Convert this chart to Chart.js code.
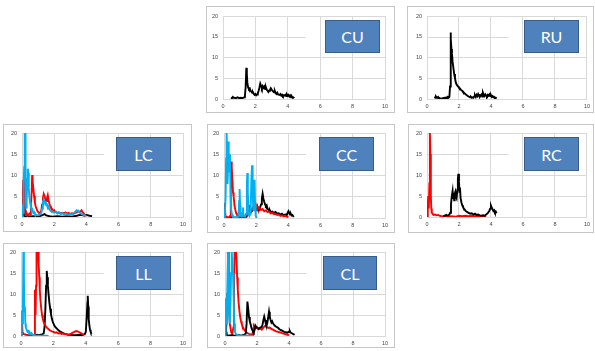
<!DOCTYPE html>
<html>
<head>
<meta charset="utf-8">
<script src="https://cdn.jsdelivr.net/npm/chart.js@4/dist/chart.umd.min.js"></script>
<style>
  html, body { margin: 0; padding: 0; background: #fff; }
  body { position: relative; width: 595px; height: 351px; overflow: hidden; }
  .panel { position: absolute; box-sizing: border-box; border: 1px solid #C6C6C6; }
  canvas.plot { position: absolute; }
  .tag { position: absolute; box-sizing: border-box; background: #4F81BD; border: 1.5px solid #385D8A;
         color: #fff; font: 16px Lato, "Open Sans", sans-serif; display: flex; align-items: center; justify-content: center; }
</style>
</head>
<body>
<script>
/* Seven small panels (CU, RU, LC, CC, RC, LL, CL) — each a 0–10 x 0–20 line plot
   with black / red / light-blue traces. */

const X_TICKS = [0, 2, 4, 6, 8, 10];
const Y_TICKS = [0, 5, 10, 15, 20];
const GRID15_END = 5.1;   // the 15-gridline stops short in every panel

const BLACK = '#000000', RED = '#FF0000', BLUE = '#00B0F0', GRID = '#D9D9D9', TICK = '#454545';

// ---- series: [x, y] ------------------------------------------------------
const CU_BLACK = [[0.5,0.4],[0.55,0.2],[0.6,0.5],[0.65,0.3],[0.7,0.3],[0.8,0.2],[0.9,0.4],[1.0,0.2],[1.1,0.3],[1.2,0.2],[1.3,0.4],[1.35,0.6],[1.4,3.0],[1.44,7.5],[1.47,6.2],[1.5,4.0],[1.55,2.8],[1.6,2.4],[1.65,2.6],[1.7,2.0],[1.75,1.8],[1.8,1.5],[1.85,1.6],[1.9,1.2],[1.95,1.0],[2.0,1.2],[2.05,0.9],[2.1,1.1],[2.15,1.4],[2.2,2.0],[2.25,2.8],[2.3,3.7],[2.35,3.2],[2.4,2.6],[2.45,3.1],[2.5,2.7],[2.55,3.0],[2.6,2.4],[2.65,2.8],[2.7,2.2],[2.75,2.0],[2.8,1.7],[2.85,2.0],[2.9,2.2],[2.95,2.6],[3.0,2.3],[3.05,2.0],[3.1,1.8],[3.15,1.6],[3.2,1.9],[3.25,1.4],[3.3,1.2],[3.35,1.5],[3.4,1.1],[3.5,1.0],[3.55,1.2],[3.6,0.8],[3.65,1.0],[3.7,0.7],[3.75,0.9],[3.8,0.8],[3.85,1.0],[3.9,0.7],[3.95,1.1],[4.0,0.8],[4.05,1.0],[4.1,0.6],[4.15,0.8],[4.2,0.4],[4.25,0.6],[4.3,0.3],[4.35,0.4],[4.4,0.2]];

const RU_BLACK = [[0.48,0.6],[0.52,0.3],[0.56,0.6],[0.6,0.4],[0.65,0.3],[0.7,0.5],[0.75,0.2],[0.8,0.2],[0.9,0.1],[1.0,0.2],[1.1,0.3],[1.15,0.2],[1.2,0.4],[1.25,0.3],[1.3,0.5],[1.35,0.3],[1.4,0.5],[1.44,3.0],[1.47,16.0],[1.5,14.5],[1.53,12.0],[1.56,11.0],[1.6,9.0],[1.65,7.5],[1.7,6.0],[1.75,5.0],[1.8,4.0],[1.85,3.5],[1.9,3.2],[1.95,3.0],[2.0,2.7],[2.05,2.6],[2.1,2.3],[2.15,2.1],[2.2,2.0],[2.25,1.7],[2.3,1.6],[2.35,1.3],[2.4,1.2],[2.45,1.0],[2.5,0.9],[2.55,0.7],[2.6,0.6],[2.65,0.5],[2.7,0.4],[2.75,0.5],[2.8,0.3],[2.85,0.4],[2.9,0.3],[2.95,0.6],[3.0,0.9],[3.05,0.5],[3.1,1.0],[3.15,0.7],[3.2,1.2],[3.25,0.8],[3.3,0.5],[3.35,0.9],[3.4,1.1],[3.45,0.6],[3.5,1.5],[3.55,1.0],[3.6,0.7],[3.65,1.1],[3.7,0.8],[3.75,0.6],[3.8,1.0],[3.85,0.8],[3.9,1.1],[3.95,0.7],[4.0,0.9],[4.05,0.5],[4.1,0.7],[4.15,0.4],[4.2,0.5],[4.25,0.2],[4.3,0.3],[4.35,0.1]];

const LC_BLACK = [[0.02,0.2],[0.08,5.0],[0.12,0.3],[0.2,0.1],[0.3,0.2],[0.5,0.1],[0.7,0.2],[0.9,0.1],[1.1,0.2],[1.3,0.5],[1.4,0.7],[1.5,0.4],[1.7,0.2],[1.9,0.1],[2.2,0.2],[2.5,0.1],[2.8,0.2],[3.1,0.1],[3.4,0.3],[3.6,0.5],[3.8,0.4],[4.0,0.5],[4.2,0.3],[4.35,0.2]];
const LC_RED = [[0.02,0.5],[0.08,8.8],[0.11,6.0],[0.14,9.5],[0.17,3.0],[0.2,1.0],[0.25,0.5],[0.3,0.8],[0.35,0.3],[0.4,0.5],[0.45,0.8],[0.5,0.5],[0.55,2.0],[0.6,6.0],[0.63,10.0],[0.66,8.5],[0.7,7.0],[0.75,5.0],[0.8,3.5],[0.85,2.5],[0.9,2.0],[0.95,1.5],[1.0,1.2],[1.05,1.0],[1.1,0.8],[1.15,1.2],[1.2,1.5],[1.25,3.0],[1.3,4.5],[1.35,5.5],[1.4,5.0],[1.45,4.2],[1.5,3.8],[1.55,4.5],[1.6,5.2],[1.65,4.0],[1.7,3.2],[1.75,2.6],[1.8,2.2],[1.85,2.0],[1.9,1.7],[1.95,1.5],[2.0,1.6],[2.05,1.3],[2.1,1.2],[2.2,1.0],[2.3,1.1],[2.4,0.8],[2.5,1.0],[2.6,0.9],[2.7,1.1],[2.8,0.8],[2.9,1.0],[3.0,0.7],[3.1,0.9],[3.2,0.8],[3.3,1.0],[3.4,1.1],[3.5,1.3],[3.6,1.2],[3.7,1.6],[3.75,1.2],[3.8,1.0],[3.85,0.5],[3.9,0.2]];
const LC_BLUE = [[0.0,0.0],[0.04,3.0],[0.07,1.0],[0.1,8.0],[0.14,12.0],[0.17,20.0],[0.2,20.0],[0.22,10.0],[0.25,5.0],[0.28,2.0],[0.3,4.0],[0.33,9.0],[0.36,11.5],[0.39,10.5],[0.42,7.0],[0.45,5.0],[0.5,3.5],[0.55,2.5],[0.6,1.5],[0.65,1.8],[0.7,1.0],[0.75,1.2],[0.8,0.7],[0.9,0.5],[1.0,0.4],[1.1,0.6],[1.2,1.0],[1.25,2.0],[1.3,3.5],[1.35,4.2],[1.4,3.6],[1.45,3.0],[1.5,3.3],[1.55,2.8],[1.6,2.2],[1.65,2.5],[1.7,1.8],[1.75,1.6],[1.8,1.4],[1.9,1.2],[2.0,1.0],[2.1,1.2],[2.2,0.8],[2.3,1.0],[2.4,0.7],[2.5,0.9],[2.6,0.6],[2.7,0.8],[2.8,0.6],[2.9,0.5],[3.0,0.7],[3.1,0.6],[3.2,0.9],[3.3,1.2],[3.4,1.6],[3.45,1.3],[3.5,1.5],[3.6,1.0],[3.7,0.7],[3.8,0.5],[3.9,0.4],[4.0,0.2]];

const CC_BLACK = [[0.0,0.0],[0.04,3.5],[0.07,0.5],[0.1,0.2],[0.3,0.1],[0.5,0.2],[0.7,0.1],[0.9,0.2],[1.1,0.1],[1.3,0.2],[1.4,0.3],[1.5,1.5],[1.55,3.0],[1.6,1.8],[1.65,2.2],[1.7,1.5],[1.8,2.0],[1.85,2.6],[1.9,2.2],[1.95,1.8],[2.0,2.4],[2.05,2.0],[2.1,2.3],[2.15,1.7],[2.2,2.0],[2.25,2.6],[2.3,3.2],[2.35,4.5],[2.4,5.7],[2.45,4.5],[2.5,3.8],[2.55,3.2],[2.6,2.8],[2.65,3.0],[2.7,2.2],[2.75,2.0],[2.8,1.6],[2.85,1.8],[2.9,1.4],[3.0,1.5],[3.1,1.2],[3.2,1.4],[3.3,1.0],[3.4,1.1],[3.5,0.8],[3.6,1.0],[3.7,0.6],[3.8,0.8],[3.9,0.7],[3.95,1.2],[4.0,1.6],[4.05,1.2],[4.1,0.8],[4.15,1.0],[4.2,0.6],[4.25,0.7],[4.3,0.4],[4.35,0.5]];
const CC_RED = [[0.0,0.0],[0.03,1.0],[0.06,3.5],[0.09,0.5],[0.15,0.2],[0.3,0.1],[0.38,0.5],[0.42,6.0],[0.45,13.3],[0.48,12.0],[0.52,9.0],[0.56,6.0],[0.6,5.0],[0.65,3.0],[0.7,2.0],[0.75,1.2],[0.8,0.8],[0.9,0.4],[1.0,0.3],[1.1,0.2],[1.2,0.3],[1.3,0.5],[1.4,1.0],[1.45,0.6],[1.5,0.8],[1.6,1.2],[1.7,1.8],[1.8,2.4],[1.85,3.0],[1.9,2.8],[1.95,3.3],[2.0,2.6],[2.05,2.8],[2.1,2.2],[2.2,2.4],[2.3,1.9],[2.4,2.1],[2.5,1.6],[2.6,1.8],[2.7,1.4],[2.8,1.5],[2.9,1.1],[3.0,1.2],[3.1,0.9],[3.2,1.0],[3.3,0.7],[3.4,0.8],[3.5,0.5],[3.6,0.6],[3.7,0.4],[3.8,0.5],[3.9,0.3],[4.0,0.2]];
const CC_BLUE = [[0.0,0.0],[0.05,0.5],[0.1,5.0],[0.13,14.0],[0.16,20.0],[0.19,17.0],[0.22,8.0],[0.25,12.0],[0.28,18.0],[0.31,13.0],[0.34,11.0],[0.37,15.0],[0.4,7.0],[0.44,2.0],[0.5,0.8],[0.55,0.3],[0.6,0.2],[0.7,0.1],[0.8,0.2],[0.9,0.3],[0.94,4.0],[0.97,6.8],[1.0,3.0],[1.03,0.5],[1.1,0.4],[1.15,1.2],[1.18,2.5],[1.21,0.5],[1.3,0.3],[1.38,1.0],[1.42,8.0],[1.45,10.6],[1.48,6.0],[1.52,1.5],[1.58,0.5],[1.65,1.0],[1.7,9.0],[1.74,12.4],[1.78,6.0],[1.82,2.0],[1.86,5.0],[1.9,9.0],[1.93,3.0],[1.97,0.5],[2.0,0.2],[2.05,0.0]];

const RC_RED = [[0.0,0.0],[0.05,3.0],[0.08,5.0],[0.11,2.0],[0.15,8.0],[0.18,20.0],[0.21,15.0],[0.24,5.0],[0.27,2.0],[0.3,1.0],[0.35,0.8],[0.4,0.5],[0.5,0.6],[0.6,0.4],[0.7,0.5],[0.8,0.3],[0.9,0.2],[1.0,0.1],[1.2,0.1],[1.5,0.2],[1.8,0.1],[2.0,0.3],[2.2,0.2],[2.4,0.3],[2.6,0.2],[2.8,0.3],[3.0,0.2],[3.2,0.3],[3.4,0.2],[3.6,0.1],[3.7,0.0]];
const RC_BLACK = [[1.0,0.2],[1.1,0.3],[1.2,0.5],[1.3,0.3],[1.4,0.6],[1.45,1.0],[1.5,3.0],[1.55,5.0],[1.6,6.2],[1.63,4.5],[1.66,5.8],[1.7,4.0],[1.73,5.5],[1.77,6.0],[1.8,5.0],[1.85,4.5],[1.9,6.5],[1.93,9.0],[1.96,10.3],[2.0,8.5],[2.03,6.0],[2.06,7.0],[2.1,4.5],[2.15,3.5],[2.2,2.8],[2.25,2.4],[2.3,2.0],[2.35,1.8],[2.4,1.5],[2.5,1.2],[2.6,1.0],[2.7,0.8],[2.8,0.9],[2.9,0.6],[3.0,0.8],[3.1,0.5],[3.2,0.6],[3.3,0.4],[3.4,0.3],[3.5,0.4],[3.6,0.3],[3.7,0.6],[3.8,0.9],[3.9,1.5],[3.95,2.0],[4.0,2.7],[4.05,2.2],[4.1,1.8],[4.15,1.4],[4.2,1.6],[4.25,1.1],[4.3,1.3],[4.35,0.9]];

const LL_BLUE = [[0.0,0.0],[0.03,2.0],[0.06,6.0],[0.09,3.0],[0.12,8.0],[0.15,20.0],[0.18,14.0],[0.21,6.0],[0.24,7.0],[0.27,3.0],[0.3,2.0],[0.35,1.5],[0.4,1.0],[0.45,1.2],[0.5,0.6],[0.55,0.8],[0.6,0.5],[0.65,0.7],[0.7,0.3],[0.8,0.2],[0.9,0.1],[1.0,0.1],[1.2,0.1],[1.4,0.1],[1.6,0.1],[1.7,0.0]];
const LL_RED = [[0.0,0.0],[0.03,6.0],[0.06,5.5],[0.09,1.0],[0.15,0.5],[0.3,0.3],[0.5,0.2],[0.7,0.1],[0.84,0.1],[0.86,11.0],[0.88,8.0],[0.9,5.0],[0.93,12.0],[0.96,20.5],[1.0,21.0],[1.05,21.0],[1.08,20.5],[1.1,17.0],[1.13,14.0],[1.16,11.0],[1.2,8.5],[1.25,6.5],[1.3,5.0],[1.35,4.0],[1.4,3.3],[1.5,2.5],[1.6,2.0],[1.7,1.6],[1.8,1.3],[1.9,1.1],[2.0,1.0],[2.1,0.8],[2.2,0.9],[2.3,0.6],[2.4,0.7],[2.5,0.5],[2.6,0.6],[2.7,0.4],[2.8,0.5],[2.9,0.3],[3.0,0.4],[3.1,0.6],[3.2,0.8],[3.3,1.0],[3.4,1.2],[3.5,1.1],[3.6,0.9],[3.7,0.7],[3.8,0.4],[3.9,0.2]];
const LL_BLACK = [[0.6,0.2],[0.7,0.3],[0.8,0.1],[0.9,0.2],[1.0,0.3],[1.1,0.2],[1.2,0.3],[1.3,0.4],[1.4,0.6],[1.45,2.0],[1.5,6.0],[1.55,12.0],[1.59,15.5],[1.62,14.0],[1.66,12.0],[1.7,10.0],[1.75,8.0],[1.8,6.5],[1.85,5.2],[1.9,4.2],[1.95,3.5],[2.0,3.0],[2.05,2.6],[2.1,2.2],[2.2,1.8],[2.3,1.4],[2.4,1.1],[2.5,0.9],[2.6,0.7],[2.7,0.5],[2.8,0.4],[2.9,0.3],[3.0,0.3],[3.2,0.2],[3.4,0.2],[3.6,0.3],[3.8,0.2],[3.95,0.5],[4.0,1.0],[4.05,4.0],[4.1,8.0],[4.12,9.6],[4.15,7.0],[4.18,4.0],[4.22,2.5],[4.26,1.5],[4.3,1.0],[4.35,0.5]];

const CL_BLUE = [[0.0,0.0],[0.03,4.0],[0.06,9.0],[0.09,3.0],[0.12,6.0],[0.16,14.0],[0.2,20.5],[0.23,12.0],[0.26,5.0],[0.3,3.0],[0.34,8.0],[0.38,15.0],[0.42,20.5],[0.46,16.0],[0.5,15.0],[0.54,9.0],[0.58,3.0],[0.62,1.0],[0.7,0.3],[0.8,0.2],[1.0,0.1],[1.3,0.1],[1.6,0.1],[1.8,0.0]];
const CL_RED = [[0.0,0.0],[0.05,1.0],[0.1,3.0],[0.14,10.0],[0.18,20.5],[0.21,20.5],[0.24,8.0],[0.3,3.0],[0.38,1.0],[0.46,0.5],[0.52,2.0],[0.56,10.0],[0.6,20.5],[0.64,21.0],[0.68,20.5],[0.72,18.0],[0.76,14.0],[0.8,11.0],[0.85,8.0],[0.9,6.0],[0.95,4.5],[1.0,3.5],[1.05,2.8],[1.1,2.2],[1.2,1.5],[1.3,1.0],[1.4,0.7],[1.5,0.5],[1.6,0.4],[1.7,0.3],[1.75,1.0],[1.8,2.5],[1.85,2.2],[1.9,1.8],[2.0,2.0],[2.1,1.6],[2.2,1.8],[2.3,1.5],[2.4,2.0],[2.5,2.4],[2.6,2.2],[2.7,1.9],[2.8,2.0],[2.9,1.7],[3.0,1.5],[3.1,1.3],[3.2,1.1],[3.3,1.0],[3.4,0.9],[3.5,0.8],[3.6,0.6],[3.7,0.5],[3.8,0.4],[3.9,0.3],[4.0,0.2]];
const CL_BLACK = [[0.0,0.0],[0.04,5.0],[0.07,1.0],[0.1,0.3],[0.2,0.1],[0.4,0.2],[0.6,0.1],[0.8,0.2],[0.9,0.2],[1.0,0.1],[1.1,0.2],[1.2,0.3],[1.3,0.6],[1.35,3.0],[1.4,8.2],[1.45,6.5],[1.5,4.5],[1.55,3.5],[1.6,2.8],[1.65,2.0],[1.7,1.5],[1.75,1.0],[1.8,0.8],[1.85,1.5],[1.9,2.5],[1.95,2.2],[2.0,2.0],[2.1,1.7],[2.2,2.0],[2.3,2.2],[2.35,2.8],[2.4,3.8],[2.45,4.6],[2.5,3.8],[2.55,3.0],[2.6,2.5],[2.65,3.2],[2.7,4.5],[2.75,5.8],[2.8,4.5],[2.85,3.8],[2.9,3.2],[2.95,3.5],[3.0,3.0],[3.1,2.5],[3.2,2.2],[3.3,2.0],[3.4,1.6],[3.5,1.4],[3.6,1.2],[3.7,1.0],[3.8,0.9],[3.9,0.8],[4.0,1.0],[4.05,1.2],[4.1,0.8],[4.2,0.6],[4.3,0.4],[4.35,0.3]];

// ---- page layout (px): panel frame, plot area, label box -----------------
const PANELS = [
  { name: 'CU', frame: [206, 6, 395, 113],   plot: [223, 16, 385, 99],   tag: [325, 20, 380, 53],   series: [[BLACK, CU_BLACK]] },
  { name: 'RU', frame: [407, 6, 594, 113],   plot: [427, 16, 588, 99],   tag: [524, 20, 579, 53],   series: [[BLACK, RU_BLACK]] },
  { name: 'LC', frame: [3, 124, 192, 232],   plot: [22, 133, 183, 217],  tag: [116, 137, 171, 171], series: [[BLACK, LC_BLACK], [RED, LC_RED], [BLUE, LC_BLUE]] },
  { name: 'CC', frame: [207, 124, 395, 233], plot: [224, 133, 385, 218], tag: [319, 137, 374, 171], series: [[BLACK, CC_BLACK], [RED, CC_RED], [BLUE, CC_BLUE]] },
  { name: 'RC', frame: [408, 124, 594, 233], plot: [427, 133, 588, 217], tag: [524, 137, 579, 171], series: [[RED, RC_RED], [BLACK, RC_BLACK]] },
  { name: 'LL', frame: [3, 243, 192, 348],   plot: [21, 252, 183, 336],  tag: [116, 256, 171, 290], series: [[BLACK, LL_BLACK], [RED, LL_RED], [BLUE, LL_BLUE]] },
  { name: 'CL', frame: [207, 243, 395, 348], plot: [225, 252, 385, 336], tag: [323, 256, 377, 290], series: [[RED, CL_RED], [BLACK, CL_BLACK], [BLUE, CL_BLUE]] }
];

// the 15 gridline only runs from x=0 to GRID15_END
const partialGrid15 = {
  id: 'partialGrid15',
  beforeDatasetsDraw(c) {
    const { ctx, scales: { x, y } } = c;
    const yy = Math.round(y.getPixelForValue(15)) + 0.5;
    ctx.save();
    ctx.strokeStyle = GRID; ctx.lineWidth = 1;
    ctx.beginPath(); ctx.moveTo(x.getPixelForValue(0), yy); ctx.lineTo(x.getPixelForValue(GRID15_END), yy); ctx.stroke();
    ctx.restore();
  }
};

function makePanel(p) {
  const [L, T, R, B] = p.frame, [pl, pt, pr, pb] = p.plot;
  const frame = document.createElement('div');
  frame.className = 'panel';
  Object.assign(frame.style, { left: L + 'px', top: T + 'px', width: (R - L) + 'px', height: (B - T) + 'px' });
  document.body.appendChild(frame);

  const cv = document.createElement('canvas');
  cv.className = 'plot';
  cv.width = R - L; cv.height = B - T;
  Object.assign(cv.style, { left: L + 'px', top: T + 'px', width: (R - L) + 'px', height: (B - T) + 'px' });
  document.body.appendChild(cv);

  const tickFont = { family: '"Liberation Sans", Arial, sans-serif', size: 5.5 };
  const n = p.series.length;
  new Chart(cv, {
    type: 'scatter',
    data: {
      datasets: p.series.map(([col, pts], i) => ({
        data: pts.map(([x, y]) => ({ x, y })),
        showLine: true, borderColor: col, borderWidth: 1.9, pointRadius: 0, tension: 0,
        order: n - i   // later series drawn on top
      }))
    },
    options: {
      responsive: false, animation: false, devicePixelRatio: 1,
      layout: { padding: { left: 0, top: pt - T, right: R - pr, bottom: 0 } },
      plugins: { legend: { display: false }, tooltip: { enabled: false } },
      scales: {
        x: {
          type: 'linear', min: X_TICKS[0], max: X_TICKS[X_TICKS.length - 1],
          afterBuildTicks: s => { s.ticks = X_TICKS.map(v => ({ value: v })); },
          afterFit: s => { s.height = B - pb; },
          ticks: { color: TICK, font: tickFont, padding: 4, maxRotation: 0 },
          grid: { color: GRID, drawTicks: false },
          border: { display: true, color: GRID }
        },
        y: {
          min: Y_TICKS[0], max: Y_TICKS[Y_TICKS.length - 1],
          afterBuildTicks: s => { s.ticks = Y_TICKS.map(v => ({ value: v })); },
          afterFit: s => { s.width = pl - L; },
          ticks: { color: TICK, font: tickFont, padding: 5 },
          grid: { color: c => (c.tick && c.tick.value === 15) ? 'rgba(0,0,0,0)' : GRID, drawTicks: false },
          border: { display: true, color: GRID }
        }
      }
    },
    plugins: [partialGrid15]
  });

  const [tl, tt, tr, tb] = p.tag;
  const tag = document.createElement('div');
  tag.className = 'tag';
  tag.textContent = p.name;
  Object.assign(tag.style, { left: tl + 'px', top: tt + 'px', width: (tr - tl) + 'px', height: (tb - tt) + 'px' });
  document.body.appendChild(tag);
}

PANELS.forEach(makePanel);
</script>
</body>
</html>
